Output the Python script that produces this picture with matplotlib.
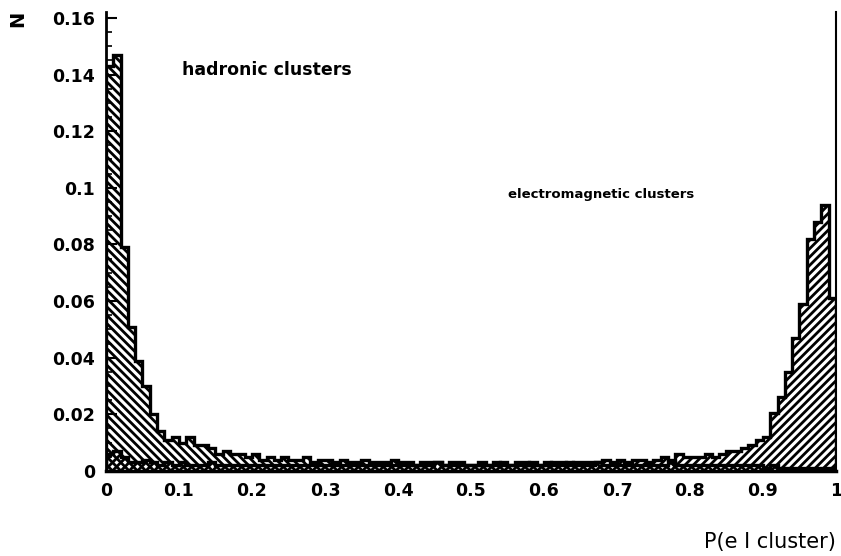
import numpy as np
import matplotlib
matplotlib.use('Agg')
import matplotlib.pyplot as plt

# bin edges: 100 bins between 0 and 1
edges = np.linspace(0, 1, 101)

# hadronic clusters, P(e|cluster) distribution
hadronic = [
    0.143, 0.147, 0.079, 0.051, 0.039, 0.030, 0.020, 0.014, 0.011, 0.012,
    0.010, 0.012, 0.009, 0.009, 0.008, 0.006, 0.007, 0.006, 0.006, 0.005,
    0.006, 0.004, 0.005, 0.004, 0.005, 0.004, 0.004, 0.005, 0.003, 0.004,
    0.004, 0.003, 0.004, 0.003, 0.003, 0.004, 0.003, 0.003, 0.003, 0.004,
    0.003, 0.003, 0.002, 0.003, 0.003, 0.003, 0.002, 0.003, 0.003, 0.002,
    0.002, 0.003, 0.002, 0.002, 0.003, 0.002, 0.003, 0.003, 0.002, 0.002,
    0.003, 0.002, 0.002, 0.003, 0.002, 0.002, 0.002, 0.003, 0.002, 0.002,
    0.002, 0.002, 0.002, 0.002, 0.002, 0.002, 0.002, 0.003, 0.002, 0.002,
    0.002, 0.002, 0.002, 0.002, 0.002, 0.002, 0.002, 0.002, 0.002, 0.002,
    0.001, 0.002, 0.001, 0.001, 0.001, 0.001, 0.001, 0.001, 0.001, 0.001,
]

# electromagnetic clusters
electromagnetic = [
    0.006, 0.007, 0.005, 0.003, 0.003, 0.004, 0.003, 0.002, 0.003, 0.002,
    0.003, 0.002, 0.002, 0.002, 0.003, 0.002, 0.002, 0.002, 0.002, 0.002,
    0.002, 0.002, 0.002, 0.002, 0.002, 0.002, 0.002, 0.002, 0.002, 0.002,
    0.002, 0.002, 0.002, 0.002, 0.002, 0.002, 0.002, 0.002, 0.002, 0.002,
    0.002, 0.002, 0.002, 0.002, 0.002, 0.003, 0.002, 0.002, 0.002, 0.002,
    0.002, 0.002, 0.002, 0.003, 0.002, 0.002, 0.002, 0.002, 0.003, 0.002,
    0.002, 0.003, 0.003, 0.002, 0.003, 0.003, 0.003, 0.003, 0.004, 0.003,
    0.004, 0.003, 0.004, 0.004, 0.003, 0.004, 0.005, 0.004, 0.006, 0.005,
    0.005, 0.005, 0.006, 0.005, 0.006, 0.007, 0.007, 0.008, 0.009, 0.011,
    0.012, 0.0205, 0.026, 0.035, 0.047, 0.059, 0.082, 0.088, 0.094, 0.061,
]

xticks = [0, 0.1, 0.2, 0.3, 0.4, 0.5, 0.6, 0.7, 0.8, 0.9, 1]
xticklabels = ['0', '0.1', '0.2', '0.3', '0.4', '0.5', '0.6', '0.7', '0.8', '0.9', '1']
yticks = [0, 0.02, 0.04, 0.06, 0.08, 0.1, 0.12, 0.14, 0.16]
yticklabels = ['0', '0.02', '0.04', '0.06', '0.08', '0.1', '0.12', '0.14', '0.16']

plt.rcParams['hatch.linewidth'] = 2.0
plt.rcParams['font.family'] = 'DejaVu Sans'

fig = plt.figure(figsize=(8.41, 5.56), dpi=100)
ax = fig.add_axes([0.126, 0.153, 0.868, 0.825])

ax.stairs(hadronic, edges, fill=True, hatch='\\\\\\\\', facecolor='none',
          edgecolor='black', linewidth=2.4)
ax.stairs(electromagnetic, edges, fill=True, hatch='////', facecolor='none',
          edgecolor='black', linewidth=2.4)

ax.set_xlim(0, 1)
ax.set_ylim(0, 0.162)

ax.set_xticks(xticks)
ax.set_xticklabels(xticklabels, fontsize=12.5, fontweight='bold')
ax.set_yticks(yticks)
ax.set_yticklabels(yticklabels, fontsize=12.5, fontweight='bold')
ax.set_yticks(np.arange(0, 0.161, 0.005), minor=True)
ax.tick_params(axis='both', which='major', direction='in', length=8, width=1.5, pad=8)
ax.tick_params(axis='y', which='minor', direction='in', length=4, width=1.2)
ax.tick_params(axis='x', which='major', length=0)

ax.spines['left'].set_linewidth(2)
ax.spines['bottom'].set_linewidth(2.5)
ax.spines['right'].set_linewidth(1.5)
ax.spines['top'].set_visible(False)

ax.text(0.104, 0.140, 'hadronic clusters', fontsize=12.5, fontweight='bold')
ax.text(0.551, 0.0965, 'electromagnetic clusters', fontsize=9.5, fontweight='bold')

fig.text(0.994, 0.008, 'P(e I cluster)', fontsize=15, ha='right', va='bottom')
fig.text(0.010, 0.966, 'N', fontsize=14, fontweight='bold', rotation=90,
         ha='left', va='center')

fig.savefig('out.png', dpi=100)
